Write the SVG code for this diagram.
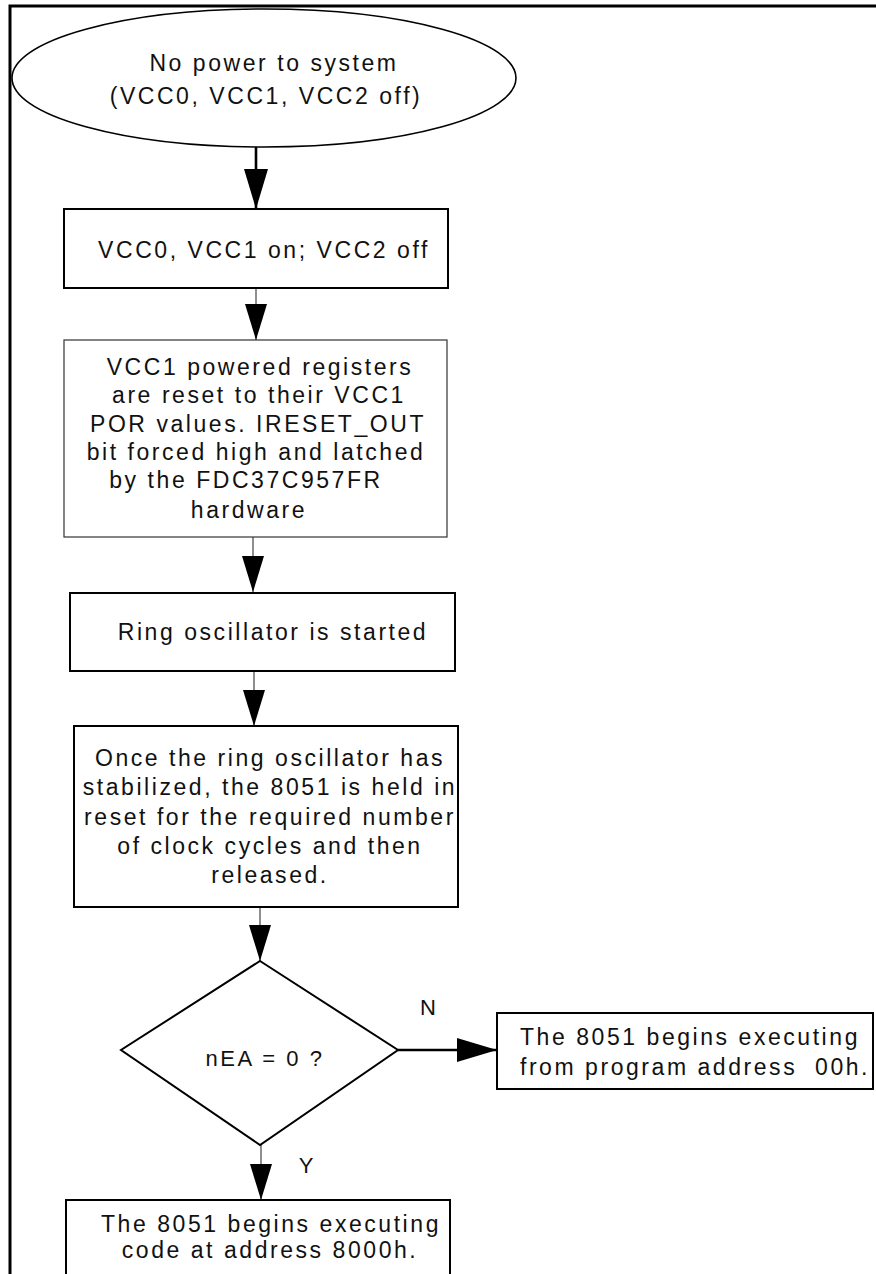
<svg xmlns="http://www.w3.org/2000/svg" width="876" height="1274" viewBox="0 0 876 1274">
  <style>
    .t { font-family: "Liberation Sans", Arial, Helvetica, sans-serif; font-size: 23px; letter-spacing: 2.55px; fill: #111; text-anchor: middle; }
    .lbl { font-family: "Liberation Sans", Arial, Helvetica, sans-serif; font-size: 22px; fill: #111; text-anchor: middle; }
    .box { fill: #fff; stroke: #000; stroke-width: 2; }
    .thinbox { fill: #fff; stroke: #333; stroke-width: 1.2; }
    .thin { stroke: #444; stroke-width: 1.2; fill: none; }
    .thick { stroke: #000; stroke-width: 2.6; fill: none; }
  </style>
  <defs>
    <marker id="ah" markerUnits="userSpaceOnUse" markerWidth="36" markerHeight="22" refX="36" refY="11" orient="auto">
      <path d="M0,0 L36,11 L0,22 Z" fill="#000"/>
    </marker>
    <marker id="ahBig" markerUnits="userSpaceOnUse" markerWidth="40" markerHeight="24" refX="40" refY="12" orient="auto">
      <path d="M0,0 L40,12 L0,24 Z" fill="#000"/>
    </marker>
  </defs>
  <rect width="876" height="1274" fill="#fff"/>
  <path d="M10,1274 V6 H876" fill="none" stroke="#000" stroke-width="3"/>

  <g id="connectors">
    <line class="thick" x1="256" y1="147" x2="256" y2="209" marker-end="url(#ahBig)"/>
    <line class="thin" x1="256" y1="288" x2="256" y2="340" marker-end="url(#ah)"/>
    <line class="thin" x1="253" y1="537" x2="253" y2="592" marker-end="url(#ah)"/>
    <line class="thin" x1="254" y1="671" x2="254" y2="726" marker-end="url(#ah)"/>
    <line class="thin" x1="260" y1="907" x2="260" y2="961" marker-end="url(#ah)"/>
    <line class="thick" x1="398" y1="1050" x2="497" y2="1050" marker-end="url(#ahBig)"/>
    <line class="thin" x1="261" y1="1145" x2="261" y2="1200" marker-end="url(#ah)"/>
    <text class="lbl" x="428" y="1015">N</text>
    <text class="lbl" x="306" y="1173">Y</text>
  </g>

  <g id="start">
    <ellipse cx="264" cy="78" rx="252" ry="69" fill="#fff" stroke="#000" stroke-width="1.6"/>
    <text class="t" x="274" y="71">No power to system</text>
    <text class="t" x="266" y="104">(VCC0, VCC1, VCC2 off)</text>
  </g>

  <g id="vcc-on">
    <rect class="box" x="64" y="209" width="384" height="79"/>
    <text class="t" x="264" y="258">VCC0, VCC1 on; VCC2 off</text>
  </g>

  <g id="registers-reset">
    <rect class="thinbox" x="64" y="340" width="383" height="197"/>
    <text class="t" x="260" y="375">VCC1 powered registers</text>
    <text class="t" x="259" y="403">are reset to their VCC1</text>
    <text class="t" x="258" y="432">POR values. IRESET_OUT</text>
    <text class="t" x="256" y="460">bit forced high and latched</text>
    <text class="t" x="246" y="488">by the FDC37C957FR</text>
    <text class="t" x="249" y="518">hardware</text>
  </g>

  <g id="ring-osc">
    <rect class="box" x="70" y="593" width="385" height="78"/>
    <text class="t" x="273" y="640">Ring oscillator is started</text>
  </g>

  <g id="reset-hold">
    <rect class="box" x="74" y="726" width="384" height="181" stroke-width="1.8"/>
    <text class="t" x="270" y="766">Once the ring oscillator has</text>
    <text class="t" x="270" y="795">stabilized, the 8051 is held in</text>
    <text class="t" x="270" y="825">reset for the required number</text>
    <text class="t" x="270" y="854">of clock cycles and then</text>
    <text class="t" x="270" y="883">released.</text>
  </g>

  <g id="decision">
    <polygon points="260,961 398,1050 260,1145 121,1050" fill="#fff" stroke="#000" stroke-width="2"/>
    <text class="t" x="265" y="1066" style="font-size:22px">nEA = 0 ?</text>
  </g>

  <g id="exec-00h">
    <rect class="box" x="497" y="1013" width="376" height="76" stroke-width="1.6"/>
    <text class="t" x="690" y="1045">The 8051 begins executing</text>
    <text class="t" x="695" y="1075" style="white-space:pre">from program address  00h.</text>
  </g>

  <g id="exec-8000h">
    <rect class="box" x="66" y="1200" width="384" height="90" stroke-width="1.6"/>
    <text class="t" x="271" y="1232">The 8051 begins executing</text>
    <text class="t" x="270" y="1258">code at address 8000h.</text>
  </g>
</svg>
